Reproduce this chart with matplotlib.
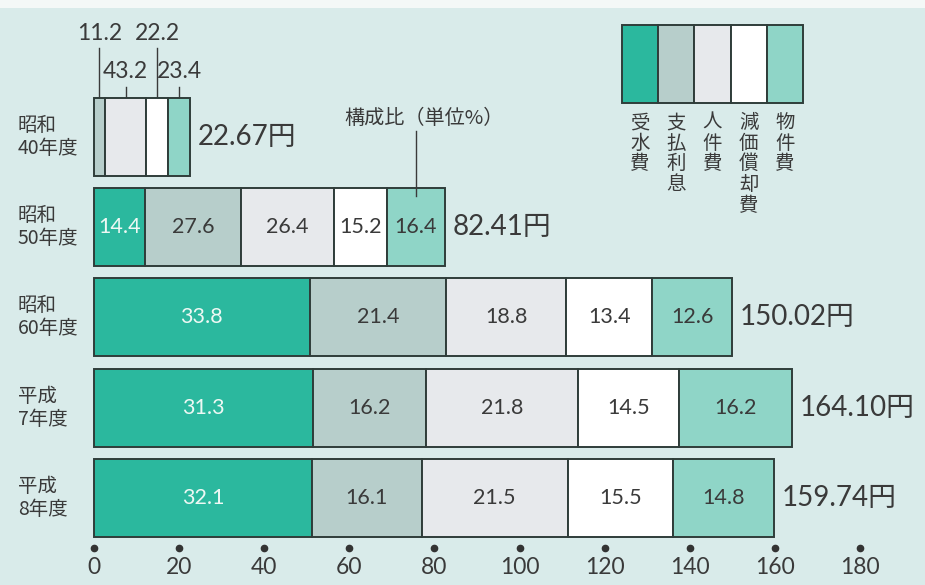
import numpy as np
import matplotlib.pyplot as plt
from matplotlib.patches import Rectangle

plt.rcParams['font.family'] = ['Noto Sans CJK JP', 'DejaVu Sans']

# ==========================================
# データ
# ==========================================
years = ['昭和\n40年度', '昭和\n50年度', '昭和\n60年度', '平成\n7年度', '平成\n8年度']
totals = [22.67, 82.41, 150.02, 164.10, 159.74]

categories = ['受水費', '支払利息', '人件費', '減価償却費', '物件費']
juSui = [0.0, 14.4, 33.8, 31.3, 32.1]
shiharai = [11.2, 27.6, 21.4, 16.2, 16.1]
jinken = [43.2, 26.4, 18.8, 21.8, 21.5]
genka = [22.2, 15.2, 13.4, 14.5, 15.5]
bukken = [23.4, 16.4, 12.6, 16.2, 14.8]
shares = [juSui, shiharai, jinken, genka, bukken]

xticks = [0, 20, 40, 60, 80, 100, 120, 140, 160, 180]

# ==========================================
# スタイル
# ==========================================
colors = ['#2bb89e', '#b7cecb', '#e7e9ec', '#ffffff', '#8fd5c7']
txt_colors = ['#eef8f4', '#3a3a3a', '#3a3a3a', '#3a3a3a', '#3a3a3a']
edge = '#2f3d3a'
bg = '#d9ebea'
dark = '#3a3a3a'
num_font = ['Lato', 'Noto Sans CJK JP']  # 数字用

W, H = 925, 585
x0_px, x180_px = 94, 860
u = (x180_px - x0_px) / 180.0  # px per unit

fig = plt.figure(figsize=(W / 100, H / 100), dpi=100)
fig.patch.set_facecolor(bg)

ax = fig.add_axes([0, 0, 1, 1])
ax.set_xlim(-x0_px / u, (W - x0_px) / u)
ax.set_ylim(H, 0)
ax.axis('off')

# ピクセル座標のオーバーレイ（凡例など）
ov = fig.add_axes([0, 0, 1, 1], zorder=-1)
ov.set_xlim(0, W)
ov.set_ylim(H, 0)
ov.axis('off')
ov.add_patch(Rectangle((0, 0), W, 8, facecolor='#f4f8f7', edgecolor='none'))

y_centers = [137, 227, 317, 408, 498]
bar_h = 78

# ==========================================
# 棒グラフ
# ==========================================
for i, total in enumerate(totals):
    yc = y_centers[i]
    left = 0.0
    for k in range(len(categories)):
        pct = shares[k][i]
        w = total * pct / 100.0
        if w > 0:
            ax.barh(yc, w, left=left, height=bar_h, color=colors[k],
                    edgecolor=edge, linewidth=1.4, zorder=2)
            if i > 0:
                ax.text(left + w / 2, yc, f'{pct:.1f}', ha='center', va='center',
                        fontsize=15.5, color=txt_colors[k], zorder=3,
                        family=num_font)
        left += w
    # 合計金額
    ax.text(total + 1.8, yc, f'{total:.2f}円', ha='left', va='center',
            fontsize=20, color=dark, family=num_font)
    # 年度ラベル
    ax.text(-x0_px / u + 18 / u, yc, years[i], ha='left', va='center',
            fontsize=14, color=dark, linespacing=1.15)

# 昭和40年度 引出線ラベル
t40 = totals[0]
cum = np.cumsum([s[0] for s in shares])
top40 = y_centers[0] - bar_h / 2
label_y = {1: 33, 2: 72, 3: 33, 4: 72}
for k in range(1, 5):
    pct = shares[k][0]
    mid = t40 * (cum[k] - pct / 2) / 100.0
    ly = label_y[k]
    ax.plot([mid, mid], [ly + 15, top40], color=dark, lw=1.0, zorder=1)
    ax.text(mid, ly, f'{pct:.1f}', ha='center', va='center', fontsize=16.5,
            color=dark, family=num_font)

# 構成比（単位%）
cum50 = np.cumsum([s[1] for s in shares])
mid50 = totals[1] * (cum50[4] - shares[4][1] / 2) / 100.0
top50 = y_centers[1] - bar_h / 2
ax.plot([mid50, mid50], [131, top50 + 8], color=dark, lw=1.0, zorder=4)
ax.text(mid50 + 2, 119, '構成比（単位%）', ha='center', va='center',
        fontsize=14.5, color=dark)

# x軸の点と目盛ラベル
ax.plot(xticks, [548] * len(xticks), 'o', color='#333333', markersize=4.5)
for t in xticks:
    ax.text(t, 567, str(t), ha='center', va='center', fontsize=16.5, color=dark,
            family=num_font)

# ==========================================
# 凡例
# ==========================================
lx, ly0, lw_, lh = 622, 25, 36.2, 78
for k, name in enumerate(categories):
    ov.add_patch(Rectangle((lx + k * lw_, ly0), lw_, lh, facecolor=colors[k],
                           edgecolor=edge, linewidth=1.4))
    ov.text(lx + k * lw_ + lw_ / 2, 112, '\n'.join(name), ha='center', va='top',
            fontsize=14, color=dark, linespacing=0.98)

fig.savefig('out.png', dpi=100, facecolor=bg)
